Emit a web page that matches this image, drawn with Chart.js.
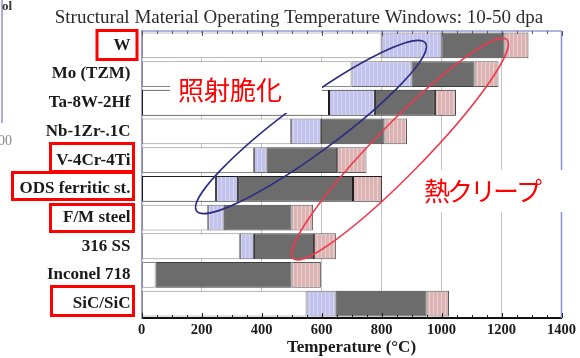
<!DOCTYPE html>
<html>
<head>
<meta charset="utf-8">
<script src="https://cdn.jsdelivr.net/npm/chart.js@4/dist/chart.umd.min.js"></script>
<style>
  html, body { margin: 0; padding: 0; background: #ffffff; }
  #wrap { width: 580px; height: 358px; }
</style>
</head>
<body>
<div id="wrap"><canvas id="c" width="580" height="358"></canvas></div>
<script>
// Operating temperature windows (°C) for fusion structural materials, 10-50 dpa
const materials = ['W', 'Mo (TZM)', 'Ta-8W-2Hf', 'Nb-1Zr-.1C', 'V-4Cr-4Ti',
                   'ODS ferritic st.', 'F/M steel', '316 SS', 'Inconel 718', 'SiC/SiC'];
// lower limit of the window (start of the uncertain low-temperature band)
const lowerLimit   = [800, 700, 625, 498, 375, 248, 222, 328, 47, 550];
// start of the well-established operating band
const ductileStart = [1000, 900, 778, 598, 417, 322, 274, 375, 47, 647];
// start of the uncertain high-temperature (thermal creep) band
const creepStart   = [1210, 1110, 978, 810, 652, 705, 500, 575, 500, 950];
// upper limit of the window
const upperLimit   = [1290, 1190, 1048, 885, 750, 802, 572, 648, 598, 1025];
const tempTicks    = [0, 200, 400, 600, 800, 1000, 1200, 1400];

const SERIF = '"Liberation Serif", "Times New Roman", serif';
const CJK = '"Noto Sans CJK JP", "Noto Sans", sans-serif';

const canvas = document.getElementById('c');
const ctx0 = canvas.getContext('2d');

// vertical-stripe fill used for the uncertain bands
function stripes(base, stripe) {
  const t = document.createElement('canvas');
  t.width = 4; t.height = 4;
  const g = t.getContext('2d');
  g.fillStyle = base; g.fillRect(0, 0, 4, 4);
  g.fillStyle = stripe; g.fillRect(1, 0, 1, 4);
  return ctx0.createPattern(t, 'repeat');
}
const blueFill = stripes('#c2c2ec', '#d6d6f5');
const pinkFill = stripes('#dcb3b3', '#ecd0d0');

const darkRows = [2, 5];
const edge = (dark, light) => materials.map((_, i) => darkRows.includes(i) ? dark : light);
const span = (a, b) => materials.map((_, i) => [a[i], b[i]]);

const common = { grouped: false, borderWidth: 1, borderSkipped: false,
                 categoryPercentage: 1.0, barPercentage: 0.9 };

const decor = {
  id: 'decor',
  afterDraw(chart) {
    const ctx = chart.ctx;
    const a = chart.chartArea;
    const xs = chart.scales.x;
    ctx.save();

    // frame: top and right edges
    ctx.strokeStyle = '#9a9ad6';
    ctx.lineWidth = 1.5;
    ctx.beginPath();
    ctx.moveTo(a.left, a.top); ctx.lineTo(a.right, a.top);
    ctx.stroke();
    ctx.strokeStyle = '#8c8ce0';
    ctx.beginPath();
    ctx.moveTo(a.right, a.top); ctx.lineTo(a.right, a.bottom);
    ctx.stroke();

    // minor ticks every 50 °C, pointing inward
    ctx.lineWidth = 1;
    for (let v = 0; v <= 1400; v += 50) {
      const px = Math.round(xs.getPixelForValue(v)) + 0.5;
      const len = v % 200 === 0 ? 5 : 3;
      ctx.strokeStyle = '#555';
      ctx.beginPath(); ctx.moveTo(px, a.top); ctx.lineTo(px, a.top + len); ctx.stroke();
      ctx.strokeStyle = '#222';
      ctx.beginPath(); ctx.moveTo(px, a.bottom); ctx.lineTo(px, a.bottom - len); ctx.stroke();
    }

    // title
    ctx.fillStyle = '#2a2a2a';
    ctx.font = '19px ' + SERIF;
    ctx.textAlign = 'center';
    ctx.textBaseline = 'middle';
    ctx.fillText('Structural Material Operating Temperature Windows: 10-50 dpa', 299, 18);

    // trimmed neighbouring panel at the left edge
    ctx.strokeStyle = '#9090c8';
    ctx.lineWidth = 1.5;
    ctx.beginPath(); ctx.moveTo(2, 0); ctx.lineTo(2, 123); ctx.stroke();
    ctx.fillStyle = '#333';
    ctx.font = 'bold 13px ' + SERIF;
    ctx.textAlign = 'right';
    ctx.fillText('ol', 12, 7);
    ctx.fillStyle = '#888';
    ctx.font = '14px ' + SERIF;
    ctx.fillText('500', 12, 141);

    // annotation ellipses
    ctx.lineWidth = 1.6;
    ctx.strokeStyle = '#2c2c82';
    ctx.beginPath();
    ctx.ellipse(311, 127, 142, 26, -36.3 * Math.PI / 180, 0, 2 * Math.PI);
    ctx.stroke();
    ctx.strokeStyle = '#f03a4c';
    ctx.beginPath();
    ctx.ellipse(400, 149, 153, 25, -45.7 * Math.PI / 180, 0, 2 * Math.PI);
    ctx.stroke();

    // annotation labels on white backing
    ctx.fillStyle = '#ffffff';
    ctx.fillRect(170, 62, 152, 51);
    ctx.fillRect(415, 170, 150, 42);
    ctx.fillStyle = '#ff0000';
    ctx.font = '26px ' + CJK;
    ctx.textAlign = 'left';
    ctx.textBaseline = 'middle';
    ctx.fillText('照射脆化', 178, 90);
    ctx.letterSpacing = '-3px';
    ctx.fillText('熱クリープ', 424, 191);
    ctx.letterSpacing = '0px';

    // highlighted material names
    ctx.strokeStyle = '#ff0000';
    ctx.lineWidth = 3;
    ctx.strokeRect(97, 30.5, 40, 29);
    ctx.strokeRect(50.5, 143.5, 83, 28);
    ctx.strokeRect(12.5, 172.5, 121, 27);
    ctx.strokeRect(50.5, 204.5, 83, 27);
    ctx.strokeRect(51.5, 286.5, 82, 29);

    ctx.restore();
  }
};

new Chart(canvas, {
  type: 'bar',
  data: {
    labels: materials,
    datasets: [
      Object.assign({ label: 'creep', data: span(creepStart, upperLimit),
        backgroundColor: pinkFill, borderColor: edge('#1e1e1e', '#5a5a5a') }, common),
      Object.assign({ label: 'window', data: span(ductileStart, creepStart),
        backgroundColor: '#6c6c6c', borderColor: edge('#1e1e1e', '#3c3c3c') }, common),
      Object.assign({ label: 'embrittlement', data: span(lowerLimit, ductileStart),
        backgroundColor: blueFill, borderColor: edge('#1e1e1e', '#6a6a6a') }, common),
      Object.assign({ label: 'base', data: materials.map((_, i) => [0, lowerLimit[i]]),
        backgroundColor: '#ffffff', borderColor: edge('#1e1e1e', '#8a8a8a') }, common)
    ]
  },
  options: {
    indexAxis: 'y',
    responsive: false,
    animation: false,
    devicePixelRatio: 1,
    layout: { padding: { top: 31, right: 18, left: 0, bottom: 0 } },
    plugins: { legend: { display: false }, title: { display: false }, tooltip: { enabled: false } },
    scales: {
      x: {
        type: 'linear', min: 0, max: 1400, position: 'bottom',
        afterBuildTicks: s => { s.ticks = tempTicks.map(v => ({ value: v })); },
        afterFit: s => { s.height = 40; },
        grid: { color: '#c4c4c4', lineWidth: 1, drawTicks: false },
        border: { color: '#111', width: 2 },
        ticks: { padding: 4, color: '#1a1a1a', callback: v => String(v),
                 font: { family: SERIF, size: 14.5, weight: 'bold' } },
        title: { display: true, text: 'Temperature (°C)', color: '#1a1a1a', padding: { top: 0, bottom: 0 },
                 font: { family: SERIF, size: 17, weight: 'bold' } }
      },
      y: {
        type: 'category', offset: true,
        afterFit: s => { s.width = 141.5; },
        grid: { display: false, drawTicks: false },
        border: { color: '#9a9ae0', width: 1.5 },
        ticks: { padding: 11, color: '#1a1a1a', font: { family: SERIF, size: 17, weight: 'bold' } }
      }
    }
  },
  plugins: [decor]
});
</script>
</body>
</html>
